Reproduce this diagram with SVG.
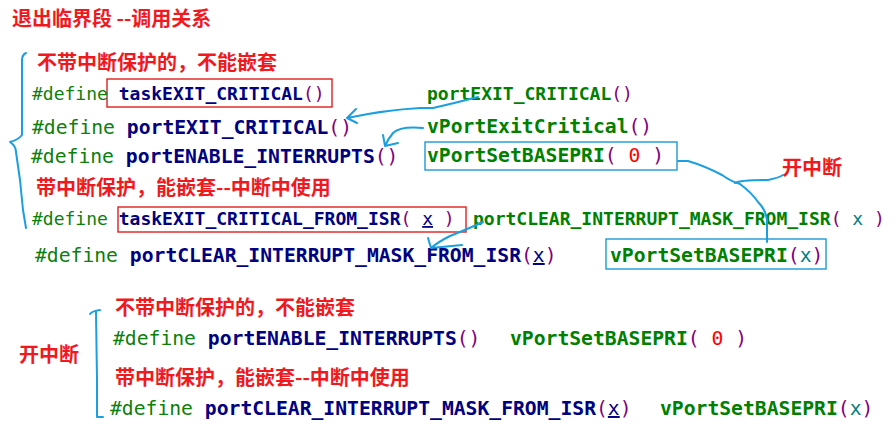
<svg xmlns="http://www.w3.org/2000/svg" width="896" height="436" viewBox="0 0 896 436">
<style>
.cjk{font-family:"Noto Sans CJK SC","Noto Sans",sans-serif;font-weight:bold;font-size:20px;fill:#f0191e}
.code{font-family:"DejaVu Sans Mono","Liberation Mono",monospace;font-size:19.7px}
.sm{font-size:18px}
.def{fill:#0b800b}
.id{fill:#000080;font-weight:bold}
.fn{fill:#008000;font-weight:bold}
.p{fill:#800080}
.z{fill:#ff0000}
.tx{fill:#008080}
.ux{fill:#000080;text-decoration:underline}
.rbox{fill:none;stroke:#e02020;stroke-width:1.4}
.bbox{fill:none;stroke:#1a9ad6;stroke-width:1.4}
.conn{fill:none;stroke:#1a9fe0;stroke-width:2;stroke-linecap:round;stroke-linejoin:round}
</style>
<rect width="896" height="436" fill="#ffffff"/>
<g id="title"><text class="cjk" x="12" y="26">退出临界段 --调用关系</text></g>
<g id="label-nonest"><text class="cjk" x="37" y="70">不带中断保护的，不能嵌套</text></g>
<g id="line1">
<rect class="rbox" x="107" y="79" width="225" height="28"/>
<text class="code sm" x="32" y="100"><tspan class="def">#define</tspan> <tspan class="id">taskEXIT_CRITICAL</tspan><tspan class="p">()</tspan></text>
</g>
<g id="line2"><text class="code" x="32" y="134"><tspan class="def">#define</tspan> <tspan class="id">portEXIT_CRITICAL</tspan><tspan class="p">()</tspan></text></g>
<g id="line3"><text class="code" x="31" y="163"><tspan class="def">#define</tspan> <tspan class="id">portENABLE_INTERRUPTS</tspan><tspan class="p">()</tspan></text></g>
<g id="label-nest"><text class="cjk" x="36" y="195">带中断保护，能嵌套--中断中使用</text></g>
<g id="line4">
<rect class="rbox" x="118" y="207" width="348" height="25"/>
<text class="code sm" x="32" y="225"><tspan class="def">#define</tspan> <tspan class="id">taskEXIT_CRITICAL_FROM_ISR</tspan><tspan class="p">(</tspan> <tspan class="ux">x</tspan> <tspan class="p">)</tspan></text>
</g>
<g id="line5"><text class="code" x="35" y="262"><tspan class="def">#define</tspan> <tspan class="id">portCLEAR_INTERRUPT_MASK_FROM_ISR</tspan><tspan class="p">(</tspan><tspan class="ux">x</tspan><tspan class="p">)</tspan></text></g>
<g id="r1"><text class="code sm" x="427" y="100"><tspan class="fn">portEXIT_CRITICAL</tspan><tspan class="p">()</tspan></text></g>
<g id="r2"><text class="code" x="427" y="133"><tspan class="fn">vPortExitCritical</tspan><tspan class="p">()</tspan></text></g>
<g id="r3">
<rect class="bbox" x="425" y="142" width="252" height="28"/>
<text class="code" x="427" y="162"><tspan class="fn">vPortSetBASEPRI</tspan><tspan class="p">(</tspan> <tspan class="z">0</tspan> <tspan class="p">)</tspan></text>
</g>
<g id="label-open1"><text class="cjk" x="782" y="175">开中断</text></g>
<g id="r4"><text class="code sm" x="473" y="225"><tspan class="fn">portCLEAR_INTERRUPT_MASK_FROM_ISR</tspan><tspan class="p">(</tspan> <tspan class="tx">x</tspan> <tspan class="p">)</tspan></text></g>
<g id="r5">
<rect class="bbox" x="606" y="239" width="220" height="30"/>
<text class="code" x="610" y="262"><tspan class="fn">vPortSetBASEPRI</tspan><tspan class="p">(</tspan><tspan class="tx">x</tspan><tspan class="p">)</tspan></text>
</g>
<g id="label-open2"><text class="cjk" x="19" y="362">开中断</text></g>
<g id="b-label1"><text class="cjk" x="115" y="315">不带中断保护的，不能嵌套</text></g>
<g id="b-line1"><text class="code" x="113" y="345"><tspan class="def">#define</tspan> <tspan class="id">portENABLE_INTERRUPTS</tspan><tspan class="p">()</tspan></text>
<text class="code" x="510" y="345"><tspan class="fn">vPortSetBASEPRI</tspan><tspan class="p">(</tspan> <tspan class="z">0</tspan> <tspan class="p">)</tspan></text></g>
<g id="b-label2"><text class="cjk" x="115" y="385">带中断保护，能嵌套--中断中使用</text></g>
<g id="b-line2"><text class="code" x="110" y="415"><tspan class="def">#define</tspan> <tspan class="id">portCLEAR_INTERRUPT_MASK_FROM_ISR</tspan><tspan class="p">(</tspan><tspan class="ux">x</tspan><tspan class="p">)</tspan></text>
<text class="code" x="660" y="415"><tspan class="fn">vPortSetBASEPRI</tspan><tspan class="p">(</tspan><tspan class="tx">x</tspan><tspan class="p">)</tspan></text></g>
<g id="connectors">
<path class="conn" d="M478 97 Q455 103 433 108 L420 108 Q385 110 347 118 M347 118 L356 109 M347 118 L357 123"/>
<path class="conn" d="M423 128 Q400 126 393 133 Q388 139 385 146 M385 146 L383 135 M385 146 L398 143"/>
<path class="conn" d="M678 161 L688 161 Q705 166 722 175 Q732 182 740 184 Q752 193 758 202 Q766 210 767 220 L767 242"/>
<path class="conn" d="M735 183 Q740 180 768 180 Q778 178 783 175"/>
<path class="conn" d="M483 222 Q470 228 450 236 Q438 242 431 248 M431 248 L428 238 M431 248 L462 245"/>
<path class="conn" d="M26 53 Q22 55 22 60 L22 135 Q18 140 10 142 Q16 146 16 152 L20 180 L23 210 L26 228"/>
<path class="conn" d="M100 310 Q92 311 90 314 M96 312 L97 380 L97 417 L103 417"/>
</g>
</svg>
